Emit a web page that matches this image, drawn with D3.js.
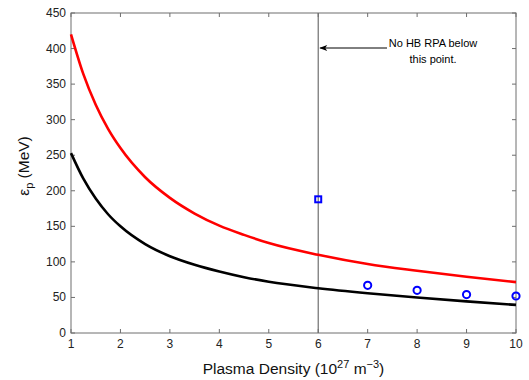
<!DOCTYPE html>
<html>
<head>
<meta charset="utf-8">
<script src="https://cdn.jsdelivr.net/npm/d3@7.9.0/dist/d3.min.js"></script>
<style>
  body { margin: 0; background: #fff; }
  svg { display: block; font-family: "Liberation Sans", Arial, sans-serif; }
</style>
</head>
<body>
<svg id="chart" width="529" height="380"></svg>
<script>
// density values (10^27 m^-3) where the curves were read
const density = [1, 1.25, 1.5, 1.75, 2, 2.5, 3, 3.5, 4, 4.5, 5, 6, 7, 8, 9, 10];
// red curve (upper) and black curve (lower), MeV
const upperCurve = [420, 364, 321, 287, 260, 219, 190, 168, 151, 138, 126.5, 110, 97, 87.5, 79, 71.5];
const lowerCurve = [253, 217, 189, 167, 150, 125, 108, 96, 86.5, 78.5, 72, 63, 56, 50, 44.5, 39.5];
// blue markers
const squareX = [6];
const squareY = [188];
const circleX = [7, 8, 9, 10];
const circleY = [67, 60, 54, 52];
// ticks
const xTicks = [1, 2, 3, 4, 5, 6, 7, 8, 9, 10];
const yTicks = [0, 50, 100, 150, 200, 250, 300, 350, 400, 450];

const svg = d3.select("#chart");
const plotLeft = 71, plotRight = 516, plotTop = 13, plotBottom = 333;

const x = d3.scaleLinear().domain([1, 10]).range([plotLeft, plotRight]);
const y = d3.scaleLinear().domain([0, 450]).range([plotBottom, plotTop]);

const axisColor = "#6e6e6e";

// box
svg.append("rect")
  .attr("x", plotLeft).attr("y", plotTop)
  .attr("width", plotRight - plotLeft).attr("height", plotBottom - plotTop)
  .attr("fill", "none").attr("stroke", axisColor).attr("stroke-width", 1);

// inward ticks on all sides
const tickLen = 4;
xTicks.forEach(t => {
  svg.append("line").attr("x1", x(t)).attr("x2", x(t))
    .attr("y1", plotBottom).attr("y2", plotBottom - tickLen).attr("stroke", axisColor);
  svg.append("line").attr("x1", x(t)).attr("x2", x(t))
    .attr("y1", plotTop).attr("y2", plotTop + tickLen).attr("stroke", axisColor);
  svg.append("text").attr("x", x(t)).attr("y", plotBottom + 15)
    .attr("text-anchor", "middle").attr("font-size", 12).attr("fill", "#222")
    .text(t);
});
yTicks.forEach(t => {
  svg.append("line").attr("x1", plotLeft).attr("x2", plotLeft + tickLen)
    .attr("y1", y(t)).attr("y2", y(t)).attr("stroke", axisColor);
  svg.append("line").attr("x1", plotRight).attr("x2", plotRight - tickLen)
    .attr("y1", y(t)).attr("y2", y(t)).attr("stroke", axisColor);
  svg.append("text").attr("x", plotLeft - 5).attr("y", y(t) + 4)
    .attr("text-anchor", "end").attr("font-size", 12).attr("fill", "#222")
    .text(t);
});

// vertical line at density 6
svg.append("line")
  .attr("x1", x(6)).attr("x2", x(6)).attr("y1", plotTop).attr("y2", plotBottom)
  .attr("stroke", axisColor).attr("stroke-width", 1.2);

// curves
const line = d3.line()
  .x((d, i) => x(density[i]))
  .y(d => y(d))
  .curve(d3.curveMonotoneX);

svg.append("path").datum(upperCurve).attr("d", line)
  .attr("fill", "none").attr("stroke", "#ff0000").attr("stroke-width", 2.6);
svg.append("path").datum(lowerCurve).attr("d", line)
  .attr("fill", "none").attr("stroke", "#000").attr("stroke-width", 2.6);

// markers
svg.selectAll(".sq").data(squareX).join("rect")
  .attr("x", (d) => x(d) - 3).attr("y", (d, i) => y(squareY[i]) - 3)
  .attr("width", 6).attr("height", 6)
  .attr("fill", "none").attr("stroke", "#0000ff").attr("stroke-width", 2);

svg.selectAll(".circ").data(circleX).join("circle")
  .attr("cx", d => x(d)).attr("cy", (d, i) => y(circleY[i]))
  .attr("r", 3.6)
  .attr("fill", "none").attr("stroke", "#0000ff").attr("stroke-width", 2);

// annotation arrow
const ay = 48;
svg.append("line").attr("x1", 387).attr("x2", x(6) + 2)
  .attr("y1", ay).attr("y2", ay).attr("stroke", "#000").attr("stroke-width", 1);
svg.append("path")
  .attr("d", `M${x(6) + 1},${ay} L${x(6) + 9},${ay - 3} L${x(6) + 7},${ay} L${x(6) + 9},${ay + 3} Z`)
  .attr("fill", "#000");
svg.append("text").attr("x", 433).attr("y", 47)
  .attr("text-anchor", "middle").attr("font-size", 11).text("No HB RPA below");
svg.append("text").attr("x", 433).attr("y", 63)
  .attr("text-anchor", "middle").attr("font-size", 11).text("this point.");

// x label
const xl = svg.append("text").attr("x", (plotLeft + plotRight) / 2).attr("y", 374)
  .attr("text-anchor", "middle").attr("font-size", 15.5).attr("fill", "#111");
xl.append("tspan").text("Plasma Density (10");
xl.append("tspan").attr("dy", -6).attr("font-size", 11).text("27");
xl.append("tspan").attr("dy", 6).text(" m");
xl.append("tspan").attr("dy", -6).attr("font-size", 11).text("\u22123");
xl.append("tspan").attr("dy", 6).text(")");

// y label
const yl = svg.append("text")
  .attr("transform", "translate(29, 166) rotate(-90)")
  .attr("text-anchor", "middle").attr("font-size", 15.5).attr("fill", "#111");
yl.append("tspan").text("\u03b5");
yl.append("tspan").attr("dy", 4).attr("font-size", 11).text("p");
yl.append("tspan").attr("dy", -4).text(" (MeV)");
</script>
</body>
</html>
